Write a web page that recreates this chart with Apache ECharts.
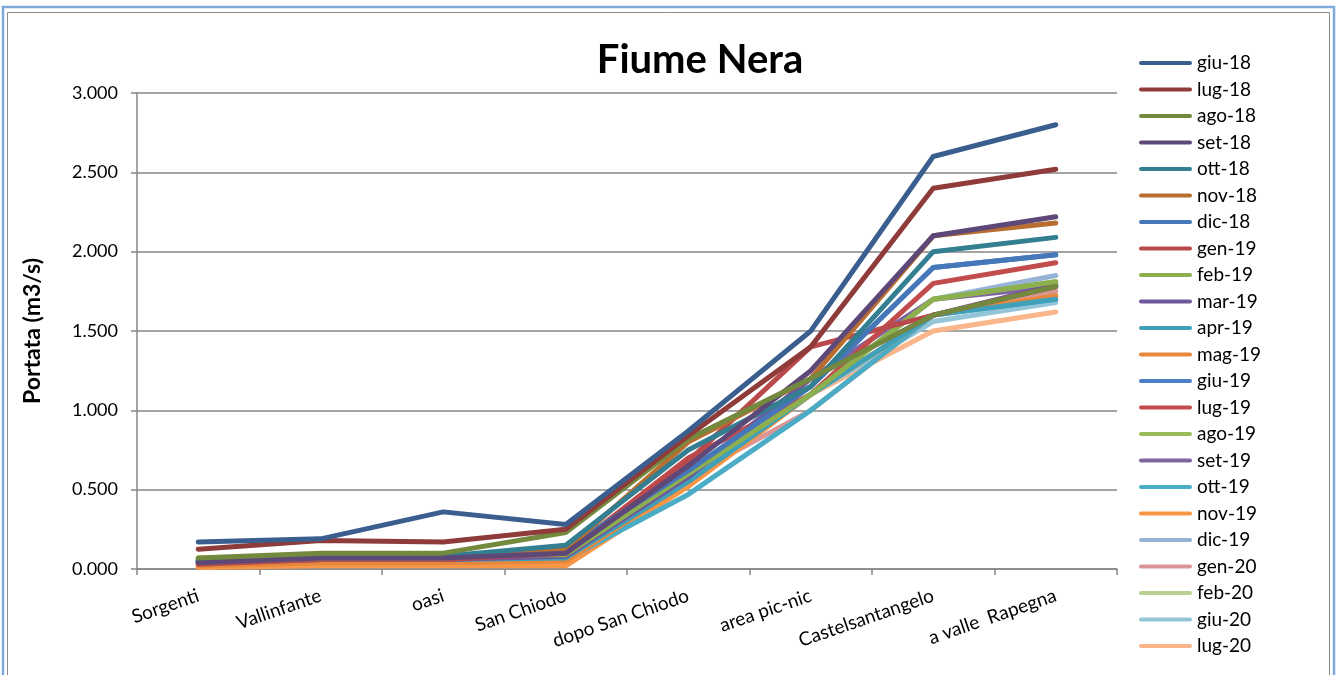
<!DOCTYPE html>
<html>
<head>
<meta charset="utf-8">
<script src="https://cdn.jsdelivr.net/npm/echarts@6/dist/echarts.min.js"></script>
<style>
html,body{margin:0;padding:0;background:#fff;}
#c{width:1339px;height:675px;}
</style>
</head>
<body>
<div id="c"></div>
<script>
const categories = ['Sorgenti','Vallinfante','oasi','San Chiodo','dopo San Chiodo','area pic-nic','Castelsantangelo','a valle  Rapegna'];
const seriesNames = ['giu-18','lug-18','ago-18','set-18','ott-18','nov-18','dic-18','gen-19','feb-19','mar-19','apr-19','mag-19','giu-19','lug-19','ago-19','set-19','ott-19','nov-19','dic-19','gen-20','feb-20','giu-20','lug-20'];
const seriesColors = ['#3A5F8E','#8E3B39','#72893E','#5E4878','#337E91','#B86E30','#4677B8','#B9494A','#8DB04E','#6F589A','#3FA0BA','#E5873C','#4A7FC4','#C24B4B','#9BBB59','#8064A2','#4BACC6','#F79646','#95B3D7','#D99694','#B9D293','#93C5D9','#FAB58A'];
const yTicks = [0, 0.5, 1, 1.5, 2, 2.5, 3];

const giu18 = [0.17, 0.19, 0.36, 0.28, 0.87, 1.50, 2.60, 2.80];
const lug18 = [0.125, 0.18, 0.17, 0.25, 0.84, 1.40, 2.40, 2.52];
const ago18 = [0.07, 0.10, 0.10, 0.23, 0.82, 1.20, 1.60, 1.78];
const set18 = [0.04, 0.07, 0.07, 0.10, 0.65, 1.25, 2.10, 2.22];
const ott18 = [0.05, 0.08, 0.08, 0.15, 0.75, 1.15, 2.00, 2.09];
const nov18 = [0.04, 0.07, 0.07, 0.12, 0.80, 1.20, 2.10, 2.18];
const dic18 = [0.05, 0.07, 0.07, 0.13, 0.62, 1.15, 1.90, 1.98];
const gen19 = [0.03, 0.06, 0.06, 0.10, 0.68, 1.40, 1.60, 1.78];
const feb19 = [0.06, 0.09, 0.09, 0.09, 0.60, 1.10, 1.70, 1.81];
const mar19 = [0.04, 0.06, 0.06, 0.08, 0.58, 1.20, 1.60, 1.79];
const apr19 = [0.04, 0.06, 0.06, 0.07, 0.55, 1.10, 1.60, 1.70];
const mag19 = [0.02, 0.04, 0.04, 0.05, 0.55, 1.10, 1.60, 1.72];
const giu19 = [0.06, 0.08, 0.08, 0.11, 0.62, 1.15, 1.90, 1.98];
const lug19 = [0.05, 0.07, 0.07, 0.10, 0.70, 1.10, 1.80, 1.93];
const ago19 = [0.06, 0.08, 0.08, 0.09, 0.60, 1.10, 1.70, 1.81];
const set19 = [0.04, 0.06, 0.06, 0.08, 0.60, 1.20, 1.70, 1.78];
const ott19 = [0.04, 0.06, 0.06, 0.06, 0.47, 1.00, 1.60, 1.70];
const nov19 = [0.01, 0.02, 0.02, 0.02, 0.52, 1.10, 1.60, 1.72];
const dic19 = [0.05, 0.07, 0.07, 0.08, 0.58, 1.10, 1.70, 1.85];
const gen20 = [0.03, 0.05, 0.05, 0.06, 0.58, 1.00, 1.60, 1.75];
const feb20 = [0.07, 0.09, 0.09, 0.08, 0.58, 1.10, 1.60, 1.73];
const giu20 = [0.05, 0.07, 0.07, 0.06, 0.55, 1.10, 1.56, 1.68];
const lug20 = [0.02, 0.04, 0.04, 0.04, 0.53, 1.10, 1.50, 1.62];

const seriesData = [giu18,lug18,ago18,set18,ott18,nov18,dic18,gen19,feb19,mar19,apr19,mag19,giu19,lug19,ago19,set19,ott19,nov19,dic19,gen20,feb20,giu20,lug20];

const FONT = 'Lato, "Open Sans", sans-serif';
const chart = echarts.init(document.getElementById('c'), null, {renderer: 'canvas'});

const series = seriesNames.map((n, i) => ({
  name: n,
  type: 'line',
  data: seriesData[i],
  symbol: 'none',
  z: 30 - i,
  lineStyle: {width: 5, color: seriesColors[i], cap: 'round', join: 'round'},
  itemStyle: {color: seriesColors[i]},
  emphasis: {disabled: true}
}));

chart.setOption({
  animation: false,
  backgroundColor: '#ffffff',
  title: {
    text: 'Fiume Nera',
    left: 695, top: 35, textAlign: 'center',
    textStyle: {fontFamily: FONT, fontWeight: 'bold', fontSize: 40, color: '#000'}
  },
  legend: {
    orient: 'vertical',
    left: 1134, top: 48,
    itemWidth: 53, itemHeight: 20, itemGap: 6.5,
    icon: 'path://M2,0 L51,0 A2,2 0 0 1 51,4 L2,4 A2,2 0 0 1 2,0 Z',
    symbolKeepAspect: true,
    textStyle: {fontFamily: FONT, fontSize: 19, color: '#000', lineHeight: 20},
    data: seriesNames
  },
  grid: {left: 137, right: 222, top: 93, bottom: 106, containLabel: false},
  xAxis: {
    type: 'category',
    data: categories,
    boundaryGap: true,
    axisLine: {lineStyle: {color: '#868686', width: 1.5}},
    axisTick: {show: true, alignWithLabel: false, length: 6, lineStyle: {color: '#868686', width: 1.5}},
    axisLabel: {rotate: 19, interval: 0, fontFamily: FONT, fontSize: 19, color: '#000', margin: 26}
  },
  yAxis: {
    type: 'value',
    min: yTicks[0], max: yTicks[yTicks.length-1], interval: 0.5,
    name: 'Portata (m3/s)',
    nameLocation: 'middle', nameGap: 93, nameRotate: 90,
    nameTextStyle: {fontFamily: FONT, fontWeight: 'bold', fontSize: 23, color: '#000'},
    axisLine: {show: true, lineStyle: {color: '#868686', width: 1.5}},
    axisTick: {show: true, length: 6, lineStyle: {color: '#868686', width: 1.5}},
    splitLine: {show: true, lineStyle: {color: '#868686', width: 1.5}},
    axisLabel: {fontFamily: FONT, fontSize: 18, color: '#000', margin: 19, formatter: v => v.toFixed(3)}
  },
  graphic: [
    {type: 'rect', shape: {x: 3, y: 7, width: 1331, height: 720}, style: {fill: 'none', stroke: '#7EA9DC', lineWidth: 2.5}, z: 100, silent: true},
    {type: 'rect', shape: {x: 7.5, y: 12.5, width: 1322, height: 720}, style: {fill: 'none', stroke: '#8A8A8A', lineWidth: 1}, z: 100, silent: true}
  ],
  series: series
});
</script>
</body>
</html>
